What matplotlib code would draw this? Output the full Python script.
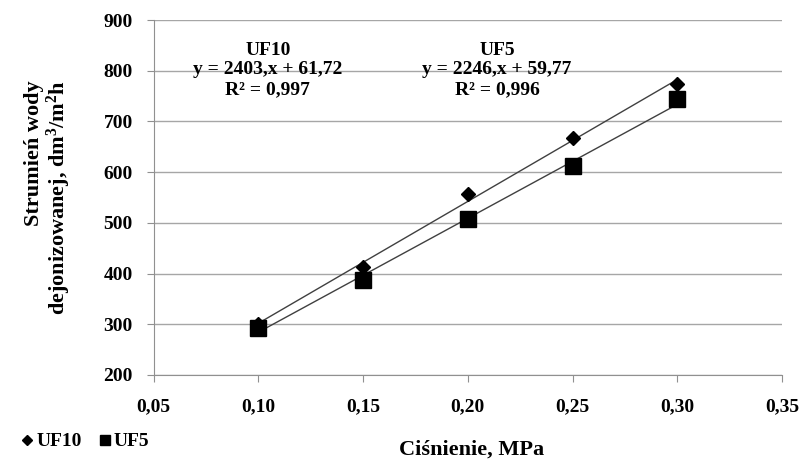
import numpy as np
import matplotlib.pyplot as plt

plt.rcParams['font.family'] = ['Liberation Serif', 'DejaVu Serif']
plt.rcParams['font.weight'] = 'bold'
plt.rcParams['mathtext.fontset'] = 'custom'
plt.rcParams['mathtext.bf'] = 'Liberation Serif:bold'
plt.rcParams['mathtext.rm'] = 'Liberation Serif:bold'
plt.rcParams['mathtext.default'] = 'bf'

pressure = [0.10, 0.15, 0.20, 0.25, 0.30]
flux_uf10 = [300, 412, 557, 667, 773]
flux_uf5 = [293, 388, 507, 612, 745]

# linear fits reported for each membrane
fit_uf10 = (2403, 61.72, 0.997)
fit_uf5 = (2246, 59.77, 0.996)

fig = plt.figure(figsize=(8.09, 4.61), dpi=100)
ax = fig.add_axes([0.19, 0.1866, 0.7766, 0.77])

xs = np.array([min(pressure), max(pressure)])
for a, b, _ in (fit_uf10, fit_uf5):
    ax.plot(xs, a * xs + b, color='#404040', lw=1.0, zorder=2)

ax.plot(pressure, flux_uf10, 'D', color='black', ms=7.5, label='UF10', zorder=3)
ax.plot(pressure, flux_uf5, 's', color='black', ms=12, label='UF5', zorder=3)

ax.set_xlim(0.05, 0.35)
ax.set_ylim(200, 900)
ax.set_xticks(np.arange(0.05, 0.351, 0.05))
ax.set_xticklabels(['0,05', '0,10', '0,15', '0,20', '0,25', '0,30', '0,35'])
ax.set_yticks(range(200, 901, 100))
ax.grid(axis='y', color='#a6a6a6', lw=1.0)
ax.set_axisbelow(True)
for s in ['top', 'right']:
    ax.spines[s].set_visible(False)
for s in ['left', 'bottom']:
    ax.spines[s].set_color('#909090')
ax.tick_params(axis='both', colors='#909090', labelcolor='black',
               labelsize=14, length=5)
ax.tick_params(axis='x', pad=12)
ax.tick_params(axis='y', pad=10)

ax.set_ylabel('Strumień wody\ndejonizowanej, dm$^3$/m$^2$h', fontsize=16,
              fontweight='bold', multialignment='right', labelpad=22,
              linespacing=1.05)
fig.text(0.583, 0.024, 'Ciśnienie, MPa', fontsize=16, fontweight='bold',
         ha='center', va='center')

def fit_text(name, fit):
    a, b, r2 = fit
    return '%s\ny = %d,x + %s\nR² = %s' % (name, a, ('%.2f' % b).replace('.', ','),
                                          ('%.3f' % r2).replace('.', ','))

ax.text(0.1045, 857, fit_text('UF10', fit_uf10), ha='center', va='top',
        fontsize=14, fontweight='bold', linespacing=1.2)
ax.text(0.214, 857, fit_text('UF5', fit_uf5), ha='center', va='top',
        fontsize=14, fontweight='bold', linespacing=1.2)

fig.legend(loc='lower left', bbox_to_anchor=(0.005, -0.015), ncol=2, frameon=False,
           fontsize=14, handlelength=0.6, handletextpad=0.15, columnspacing=0.9,
           markerscale=0.65)

fig.savefig('out.png', dpi=100)
